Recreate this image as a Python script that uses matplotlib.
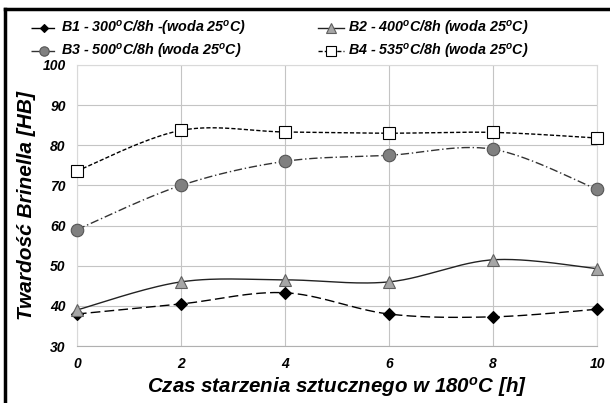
import numpy as np
import matplotlib.pyplot as plt
from matplotlib.lines import Line2D

plt.rcParams['font.family'] = ['Liberation Sans', 'DejaVu Sans']
plt.rcParams['mathtext.fontset'] = 'custom'
plt.rcParams['mathtext.it'] = 'Liberation Sans:italic:bold'
plt.rcParams['mathtext.rm'] = 'Liberation Sans:italic:bold'

# czas starzenia [h]
czas = [0, 2, 4, 6, 8, 10]
# twardosc HB
b1 = [38.0, 40.5, 43.3, 38.0, 37.3, 39.2]
b2 = [39.0, 46.0, 46.5, 46.0, 51.5, 49.3]
b3 = [59.0, 70.0, 76.0, 77.5, 79.0, 69.0]
b4 = [73.6, 83.7, 83.3, 83.0, 83.2, 81.8]

etykiety = [r'B1 - 300$^o$C/8h -(woda 25$^o$C)',
            r'B2 - 400$^o$C/8h (woda 25$^o$C)',
            r'B3 - 500$^o$C/8h (woda 25$^o$C)',
            r'B4 - 535$^o$C/8h (woda 25$^o$C)']


def wygladz(x, y, n=30):
    # krzywa jak "smoothed line" w Excelu (Catmull-Rom)
    x = np.asarray(x, float)
    y = np.asarray(y, float)
    px = np.concatenate([[x[0]], x, [x[-1]]])
    py = np.concatenate([[y[0]], y, [y[-1]]])
    xs, ys = [], []
    for i in range(1, len(px) - 2):
        p0, p1, p2, p3 = [np.array([px[j], py[j]]) for j in range(i - 1, i + 3)]
        c1 = p1 + (p2 - p0) / 6
        c2 = p2 - (p3 - p1) / 6
        t = np.linspace(0, 1, n)[:, None]
        b = (1 - t) ** 3 * p1 + 3 * (1 - t) ** 2 * t * c1 + 3 * (1 - t) * t ** 2 * c2 + t ** 3 * p2
        xs.extend(b[:, 0])
        ys.extend(b[:, 1])
    return xs, ys


fig = plt.figure(figsize=(6.1, 4.03), dpi=100)
ax = fig.add_axes([0.126, 0.141, 0.853, 0.698])

style = [
    dict(y=b1, ls=(0, (7, 3)), lc='black', m='D', mfc='black', mec='black', ms=6),
    dict(y=b2, ls='-', lc='#222222', m='^', mfc='#a6a6a6', mec='#606060', ms=9),
    dict(y=b3, ls=(0, (6, 2, 1, 2)), lc='#333333', m='o', mfc='#808080', mec='#555555', ms=9),
    dict(y=b4, ls=(0, (3, 1.5)), lc='black', m='s', mfc='white', mec='black', ms=9),
]

uchwyty = []
for s in style:
    xs, ys = wygladz(czas, s['y'])
    ax.plot(xs, ys, ls=s['ls'], color=s['lc'], lw=1.0, zorder=3)
    ax.plot(czas, s['y'], ls='none', marker=s['m'], mfc=s['mfc'], mec=s['mec'],
            ms=s['ms'], mew=0.8, zorder=4, clip_on=False)
    uchwyty.append(Line2D([], [], ls=s['ls'], color=s['lc'], lw=1.0, marker=s['m'],
                          mfc=s['mfc'], mec=s['mec'], ms=s['ms'] * 0.75, mew=0.8))

ax.set_xlim(0, 10)
ax.set_ylim(30, 100)
ax.set_xticks(czas)
ax.set_yticks(range(30, 101, 10))
ax.grid(True, color='#c4c4c4', lw=0.8)
ax.tick_params(length=0, labelsize=10, pad=8)
for lab in ax.get_xticklabels() + ax.get_yticklabels():
    lab.set_fontweight('bold')
    lab.set_fontstyle('italic')
for sp in ax.spines.values():
    sp.set_color('#d9d9d9')
    sp.set_linewidth(0.8)
ax.spines['bottom'].set_color('#b0b0b0')

ax.set_ylabel('Twardość Brinella [HB]', fontsize=15, fontweight='bold',
              fontstyle='italic', labelpad=5)
ax.set_xlabel(r'Czas starzenia sztucznego w 180$^o$C [h]', fontsize=14.8,
              fontweight='bold', fontstyle='italic', labelpad=3)

kolej = [0, 2, 1, 3]
fig.legend([uchwyty[i] for i in kolej], [etykiety[i] for i in kolej], ncol=2,
           loc='upper left', bbox_to_anchor=(0.03, 0.985), frameon=False,
           prop=dict(size=10.3, weight='bold', style='italic'), handlelength=1.8,
           handletextpad=0.3, columnspacing=5.0, labelspacing=0.3)

# ramka (gora i lewa)
fig.add_artist(Line2D([0.008, 1.0], [0.978, 0.978], color='black', lw=2.5,
                      transform=fig.transFigure))
fig.add_artist(Line2D([0.009, 0.009], [0.0, 0.978], color='black', lw=2.5,
                      transform=fig.transFigure))

fig.savefig('out.png', dpi=100)
